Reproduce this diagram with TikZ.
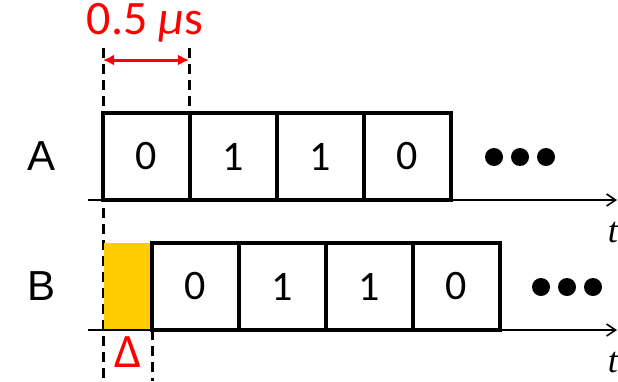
\documentclass[tikz,border=0pt]{standalone}
\usepackage{fontspec}
\setmainfont{Carlito}
\newfontfamily\lblfont{Liberation Sans}
\newfontfamily\tfont{Liberation Serif}
\usetikzlibrary{arrows.meta}
\begin{document}
\begin{tikzpicture}[x=1pt,y=-1pt,
  bitbox/.style={draw=black,line width=4.8pt,minimum width=87pt,minimum height=87pt,inner sep=0pt,outer sep=0pt,font=\fontsize{42}{46}\selectfont,anchor=north west},
  axis/.style={line width=1.6pt,-{Straight Barb[length=9pt,width=12pt]}},
  guide/.style={line width=3pt,dash pattern=on 10pt off 6pt},
  dotm/.style={circle,fill=black,minimum size=18pt,inner sep=0pt},
  rowlbl/.style={font=\lblfont\fontsize{42}{46}\selectfont},
  tlbl/.style={font=\tfont\itshape\fontsize{36}{40}\selectfont,anchor=east,inner sep=0pt}]
\useasboundingbox (0,0) rectangle (618,381);
% guides
\coordinate (g1t) at (103,48); \coordinate (g1b) at (103,381);
\coordinate (g2t) at (189,48); \coordinate (g2b) at (189,112);
\coordinate (g3t) at (152,330); \coordinate (g3b) at (152,381);
\draw[guide] (g1t) -- (g1b);
\draw[guide] (g2t) -- (g2b);
\draw[guide] (g3t) -- (g3b);
% yellow delay
\fill[fill={rgb,255:red,255;green,204;blue,0}] (104,243) rectangle (152,330);
% axes
\coordinate (a1) at (88,200); \coordinate (a2) at (617,200);
\coordinate (b1) at (88,330); \coordinate (b2) at (617,330);
\draw[axis] (a1) -- (a2);
\draw[axis] (b1) -- (b2);
\node[tlbl] (ta) at (618,233) {t};
\node[tlbl] (tb) at (618,363) {t};
% A boxes
\node[bitbox] (A0) at (103,113) {0};
\node[bitbox] (A1) at (A0.north east) {1};
\node[bitbox] (A2) at (A1.north east) {1};
\node[bitbox] (A3) at (A2.north east) {0};
% B boxes
\node[bitbox] (B0) at (152,243) {0};
\node[bitbox] (B1) at (B0.north east) {1};
\node[bitbox] (B2) at (B1.north east) {1};
\node[bitbox] (B3) at (B2.north east) {0};
% dots
\node[dotm] (da1) at (494,157) {};
\node[dotm] (da2) at (520,157) {};
\node[dotm] (da3) at (546,157) {};
\node[dotm] (db1) at (541,287) {};
\node[dotm] (db2) at (567,287) {};
\node[dotm] (db3) at (593,287) {};
% row labels
\node[rowlbl] (LA) at (42,156) {A};
\node[rowlbl] (LB) at (42,286) {B};
% 0.5 us
\coordinate (m1) at (103,60); \coordinate (m2) at (189,60);
\draw[red,line width=3pt,{Latex[length=11pt,width=11pt]}-{Latex[length=11pt,width=11pt]}] (m1) -- (m2);
\node[red,inner sep=0pt,font=\fontsize{48}{52}\selectfont] (us) at (145,23) {0.5 \textit{μ}s};
\node[red,inner sep=0pt,font=\fontsize{48}{52}\selectfont] (delta) at (128,352) {Δ};
\end{tikzpicture}
\end{document}
